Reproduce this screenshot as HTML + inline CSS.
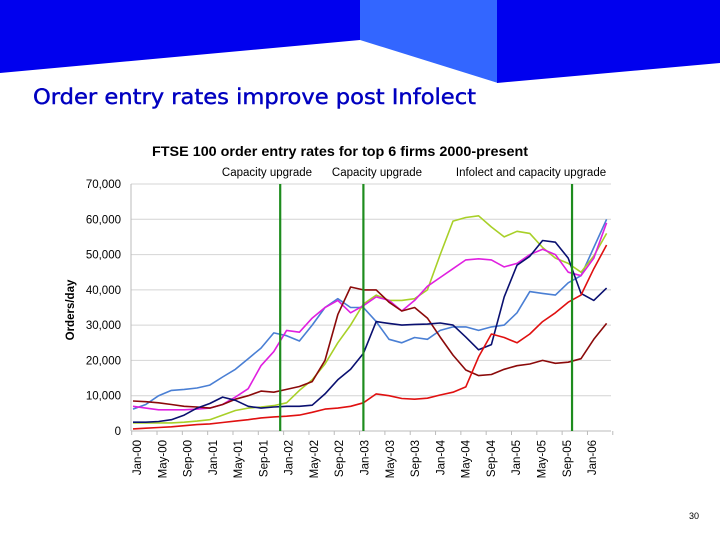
<!DOCTYPE html>
<html><head><meta charset="utf-8"><style>
html,body{margin:0;padding:0;background:#fff;}
#wrap{position:relative;width:720px;height:540px;overflow:hidden;background:#fff;}
svg{position:absolute;left:0;top:0;}
</style></head><body>
<div id="wrap">
<svg id="chart" width="720" height="540" viewBox="0 0 720 540">
  <polygon points="0,0 362,0 360,40 0,73" fill="#0000ee"/>
  <polygon points="360,0 498,0 498,83 360,40" fill="#3366ff"/>
  <polygon points="497,0 720,0 720,63 497,83" fill="#0000ee"/>
  <text x="33" y="104" textLength="443" lengthAdjust="spacingAndGlyphs" font-family="DejaVu Sans Condensed, DejaVu Sans, sans-serif" font-size="21" fill="#0000c0" stroke="#0000c0" stroke-width="0.4">Order entry rates improve post Infolect</text>
  <text x="152" y="156" textLength="376" lengthAdjust="spacingAndGlyphs" font-family="Liberation Sans, sans-serif" font-size="13.5" font-weight="bold" fill="#000">FTSE 100 order entry rates for top 6 firms 2000-present</text>
  <text x="267" y="176" text-anchor="middle" font-family="Liberation Sans, sans-serif" font-size="11.5" fill="#000">Capacity upgrade</text>
  <text x="377" y="176" text-anchor="middle" font-family="Liberation Sans, sans-serif" font-size="11.5" fill="#000">Capacity upgrade</text>
  <text x="531" y="176" text-anchor="middle" font-family="Liberation Sans, sans-serif" font-size="11.5" fill="#000">Infolect and capacity upgrade</text>
  <text x="0" y="0" transform="translate(74,310) rotate(-90)" text-anchor="middle" font-family="Liberation Sans, sans-serif" font-size="11.5" font-weight="bold" fill="#000">Orders/day</text>
  <text x="689" y="519" font-family="Liberation Sans, sans-serif" font-size="9" fill="#000">30</text>
  <g id="grid"></g><g id="axes"></g><g id="series"></g><g id="markers"></g>
</svg>
</div>
<script>
const months = [0,2,4,6,8,10,12,14,16,18,20,22,24,26,28,30,32,34,36,38,40,42,44,46,48,50,52,54,56,58,60,62,64,66,68,70,72,74];
const lightBlue = [6.2,7.5,10,11.5,11.8,12.2,13,15.3,17.5,20.5,23.5,27.8,27,25.5,30,35,37.5,35,35,31,26,25,26.5,26,28.5,29.5,29.5,28.5,29.5,30,33.5,39.5,39,38.5,42,44,52,60];
const magenta = [7,6.5,6,6,6,6.2,6.5,7.5,9.6,12,18.5,22.5,28.5,28,32,35,37,33.5,35.5,38,37,34,37,41,43.5,46,48.5,48.8,48.5,46.5,47.5,50,51.5,50,45,44,49,59];
const lime = [2.3,2.3,2.3,2.3,2.5,2.8,3.2,4.5,5.8,6.5,6.8,7.2,8,11.5,14.5,19,25,30,36,38.5,37,37,37.5,40,50,59.5,60.5,61,57.8,55,56.6,56,52,49,47.5,45,49.6,56];
const navy = [2.5,2.5,2.7,3.2,4.5,6.5,7.8,9.6,8.7,7,6.5,6.8,7,7,7.3,10.5,14.5,17.5,22,31,30.5,30,30.2,30.3,30.6,30,26.6,23,24.5,38,47,49.5,54,53.5,49,39,37,40.5];
const darkRed = [8.5,8.3,8,7.5,7,6.8,6.5,7.5,9,10,11.3,11,11.8,12.6,14,20,33,40.8,40,40,36.5,34,35,32,26.6,21.5,17.3,15.7,16,17.5,18.5,19,20,19.2,19.5,20.5,26,30.5];
const red = [0.6,0.8,1,1.2,1.5,1.8,2,2.4,2.8,3.2,3.7,4,4.2,4.5,5.3,6.2,6.5,7,8,10.5,10,9.2,9,9.3,10.2,11,12.5,21,27.5,26.5,25,27.5,31,33.5,36.5,38.5,46,52.7];
const yTicks = [0,10000,20000,30000,40000,50000,60000,70000];
const yTickLabels = ["0","10,000","20,000","30,000","40,000","50,000","60,000","70,000"];
const xTickMonths = [0,4,8,12,16,20,24,28,32,36,40,44,48,52,56,60,64,68,72];
const xTickLabels = ["Jan-00","May-00","Sep-00","Jan-01","May-01","Sep-01","Jan-02","May-02","Sep-02","Jan-03","May-03","Sep-03","Jan-04","May-04","Sep-04","Jan-05","May-05","Sep-05","Jan-06"];
const upgradeMonths = [23,36,68.6];

const NS="http://www.w3.org/2000/svg";
const y = v => 431 - v/70000*247;
const x = m => 133 + m*6.4;
const tickX = m => 131.7 + m*6.33;
const labelX = m => 137 + m*6.32;
function mk(tag, attrs, parent){const e=document.createElementNS(NS,tag);for(const k in attrs)e.setAttribute(k,attrs[k]);parent.appendChild(e);return e;}
const grid=document.getElementById('grid'), axes=document.getElementById('axes'), ser=document.getElementById('series'), mkr=document.getElementById('markers');
yTicks.forEach((v,i)=>{
  if(v>0){const g=mk('line',{x1:131,x2:611,y1:y(v),y2:y(v),stroke:'#d4d4d4','stroke-width':1},grid);
  
  }
  const t=mk('text',{x:121,y:y(v)+4,'text-anchor':'end','font-family':'Liberation Sans, sans-serif','font-size':11.5,fill:'#000'},axes);
  t.textContent=yTickLabels[i];
  
  
});
const ax=mk('line',{x1:131,x2:131,y1:184,y2:431,stroke:'#bbb','stroke-width':1},axes);


const bx=mk('line',{x1:131,x2:611,y1:431,y2:431,stroke:'#bbb','stroke-width':1},axes);


for(let m=0;m<=76;m+=4){const tk=mk('line',{x1:tickX(m),x2:tickX(m),y1:431,y2:435,stroke:'#bbb'},axes);
  
  }
xTickMonths.forEach((m,i)=>{
  const t=mk('text',{x:0,y:0,transform:`translate(${labelX(m)+4},440) rotate(-90)`,'text-anchor':'end','font-family':'Liberation Sans, sans-serif','font-size':11.5,fill:'#000'},axes);
  t.textContent=xTickLabels[i];
  
  
});
const seriesList=[[lightBlue,'#4a7fd4','series-light-blue'],[lime,'#a8d028','series-lime'],[magenta,'#e020e0','series-magenta'],[darkRed,'#8b0a0a','series-dark-red'],[navy,'#0a1070','series-navy'],[red,'#e01010','series-red']];
seriesList.forEach(([vals,col,name])=>{
  const d=vals.map((v,i)=>(i?'L':'M')+x(months[i]).toFixed(1)+','+y(v*1000).toFixed(1)).join(' ');
  const p=mk('path',{d:d,fill:'none',stroke:col,'stroke-width':1.6,'stroke-linejoin':'round'},ser);
  
  
});
upgradeMonths.forEach(m=>{
  const l=mk('line',{x1:x(m),x2:x(m),y1:184,y2:431,stroke:'#1e8c1e','stroke-width':2.2},mkr);
  
  
});
</script>
</body></html>
